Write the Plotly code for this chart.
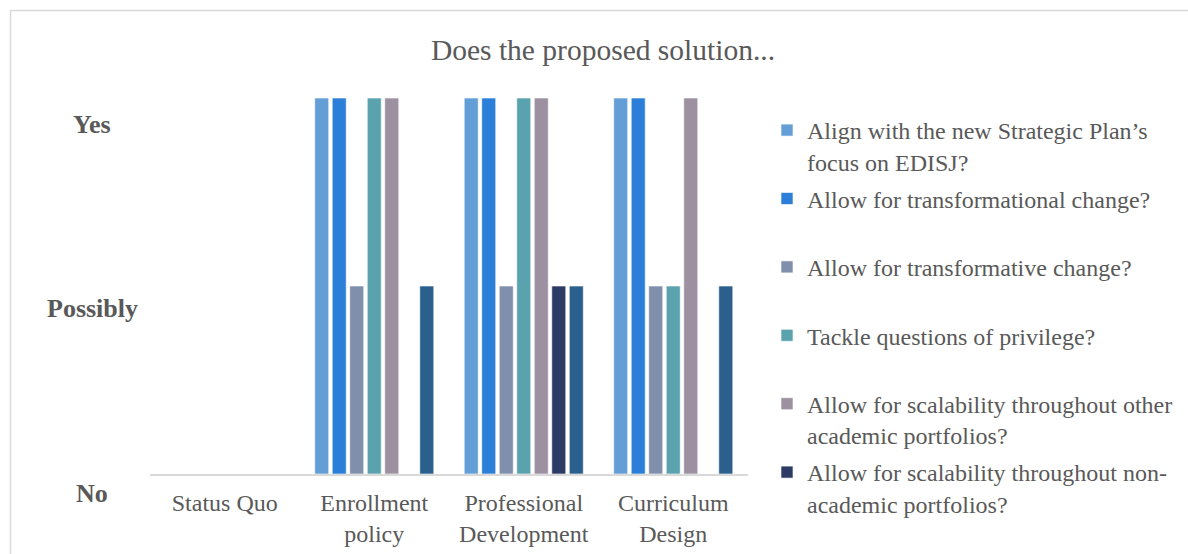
import plotly.graph_objects as go

categories = ["Status Quo", "Enrollment<br>policy", "Professional<br>Development", "Curriculum<br>Design"]

series_names = [
    "Align with the new Strategic Plan’s<br>focus on EDISJ?",
    "Allow for transformational change?<br> ",
    "Allow for transformative change?<br> ",
    "Tackle questions of privilege?<br> ",
    "Allow for scalability throughout other<br>academic portfolios?",
    "Allow for scalability throughout non-<br>academic portfolios?",
    "Other criterion",
]

# 0 = No, 1 = Possibly, 2 = Yes
align_edisj = [0, 2, 2, 2]
transformational = [0, 2, 2, 2]
transformative = [0, 1, 1, 1]
privilege = [0, 2, 2, 1]
scal_academic = [0, 2, 2, 2]
scal_nonacademic = [0, 0, 1, 0]
other_criterion = [0, 1, 1, 1]

series_values = [align_edisj, transformational, transformative, privilege,
                 scal_academic, scal_nonacademic, other_criterion]

colors = ["#639fd6", "#2c7fd8", "#808fab", "#5aa3ae", "#9d90a0", "#2b3b66", "#2b5f8d"]

y_tick_vals = [0, 1, 2]
y_tick_text = ["No", "Possibly", "Yes"]

FONT = "Liberation Serif, Times New Roman, serif"
GRAY = "#595959"

fig = go.Figure()
for i, (name, vals) in enumerate(zip(series_names, series_values)):
    fig.add_trace(go.Bar(
        x=categories, y=vals, name=name,
        marker=dict(color=colors[i], line=dict(color="rgba(255,255,255,0.6)", width=1)),
        showlegend=(i < 6), legendgroup=f"g{i}",
    ))

W, H = 1188, 554
L, R, T, B = 150, 748, 98, 474

annotations = []
for v, t, sh in zip(y_tick_vals, y_tick_text, [-19, -22, -26]):
    annotations.append(dict(
        xref="paper", yref="y", x=(92 - L) / (R - L), y=v, yshift=sh,
        text=f"<b>{t}</b>", showarrow=False, xanchor="center", yanchor="middle",
        font=dict(family=FONT, size=26, color=GRAY),
    ))

fig.update_layout(
    width=W, height=H,
    margin=dict(l=L, r=W - R, t=T, b=H - B, pad=0, autoexpand=False),
    paper_bgcolor="white", plot_bgcolor="white",
    barmode="group", bargap=0.18, bargroupgap=0.2,
    title=dict(text="Does the proposed solution...", xref="container", yref="container",
               x=603 / W, y=1 - 50 / H, xanchor="center", yanchor="middle",
               font=dict(family=FONT, size=29.5, color=GRAY)),
    font=dict(family=FONT, size=24, color=GRAY),
    xaxis=dict(showline=True, linecolor="#d9d9d9", linewidth=2, showgrid=False,
               ticks="", ticklabelstandoff=6,
               tickfont=dict(family=FONT, size=24, color=GRAY), fixedrange=True),
    yaxis=dict(range=[0, 2], showgrid=False, zeroline=False, showline=False,
               showticklabels=False, tickvals=y_tick_vals, fixedrange=True),
    legend=dict(x=(767 - L) / (R - L), xanchor="left", y=(B - 108) / (B - T), yanchor="top",
                font=dict(family=FONT, size=24, color=GRAY), valign="top",
                tracegroupgap=3, bgcolor="rgba(0,0,0,0)", maxheight=1000),
    annotations=annotations,
    shapes=[dict(type="rect", xref="paper", yref="paper",
                 x0=(10.5 - L) / (R - L), x1=(1230 - L) / (R - L),
                 y0=(B - 600) / (B - T), y1=(B - 10.5) / (B - T),
                 line=dict(color="#d9d9d9", width=1.5), fillcolor="rgba(0,0,0,0)", layer="below")],
)

fig.write_html("out.html", config={"displayModeBar": False},
               post_script="document.body.style.margin='0';document.body.style.overflow='hidden';")
